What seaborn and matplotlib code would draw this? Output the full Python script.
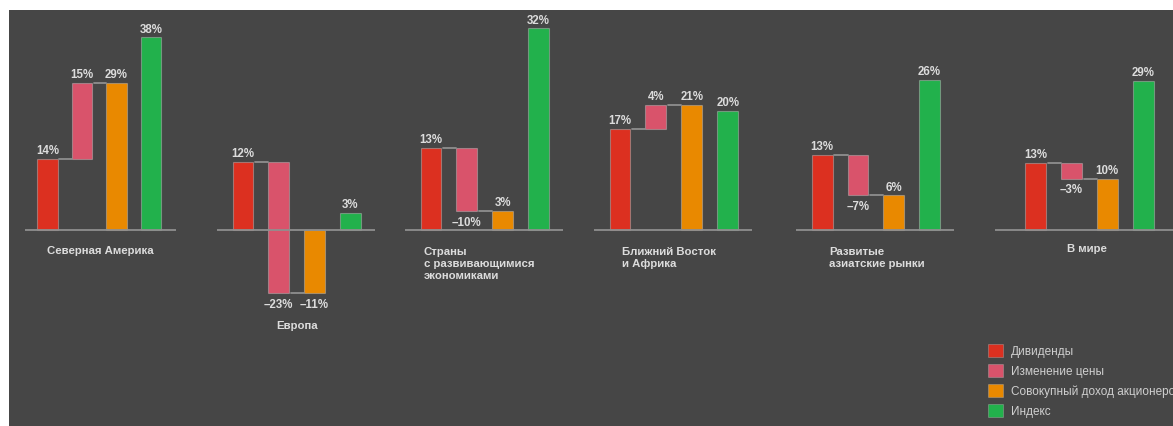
import matplotlib
matplotlib.use("Agg")
import matplotlib.pyplot as plt
from matplotlib.patches import Rectangle, Patch
import pandas as pd
import seaborn as sns

# ---- data (percent) ----
regions = [
    "Северная Америка",
    "Европа",
    "Страны\nс развивающимися\nэкономиками",
    "Ближний Восток\nи Африка",
    "Развитые\nазиатские рынки",
    "В мире",
]
dividends = [14, 12, 13, 17, 13, 13]
price_change = [15, -23, -10, 4, -7, -3]
shareholder_return = [29, -11, 3, 21, 6, 10]
index_return = [38, 3, 32, 20, 26, 29]

components = ["Дивиденды", "Изменение цены", "Совокупный доход акционеров", "Индекс"]
colors = ["#dc3020", "#d9536b", "#e98900", "#22b14c"]

# ---- styling / layout (pixel units of a 1173x427 canvas) ----
W, H = 1173, 427
BG = "#464646"
TEXT = "#dcdcdc"
LINE = "#8f8f8f"
BASE_Y = 231          # baseline row
TOP_Y = 11            # top of the dark panel
first_center = [47.5, 243, 431, 620, 822.2, 1035.5]
spacing = [34.5, 35.8, 35.8, 35.9, 35.7, 35.9]
left_units = [0.65, 0.73, 0.73, 0.73, 0.73, 1.13]
right_edge = [175.7, 375.3, 563, 752, 954.3, 1173]
px_per_pct = [5.07, 5.7, 6.3, 5.97, 5.76, 5.15]
BAR_W = 0.58
label_pos = [(100.5, 246, "center"), (297, 321, "center"), (424, 247, "left"),
             (622, 247, "left"), (829, 247, "left"), (1087, 244, "center")]

sns.set_style("dark", {"axes.facecolor": "none", "figure.facecolor": "white"})
plt.rcParams["font.family"] = ["Liberation Sans", "DejaVu Sans"]

fig = plt.figure(figsize=(W / 100, H / 100), dpi=100, facecolor="white")
fig.add_artist(Rectangle((9 / W, 0), 1, (H - TOP_Y) / H, transform=fig.transFigure,
                         facecolor=BG, edgecolor="none", zorder=-10))


def fmt(v):
    return f"{v}%" if v >= 0 else f"\u2013{abs(v)}%"


for i, region in enumerate(regions):
    c0, sp, lu = first_center[i], spacing[i], left_units[i]
    left_px = c0 - lu * sp
    right_u = (right_edge[i] - c0) / sp
    s = px_per_pct[i]

    ax = fig.add_axes([left_px / W, 0, (right_edge[i] - left_px) / W, (H - TOP_Y) / H])
    df = pd.DataFrame({
        "component": components,
        "value": [dividends[i], price_change[i], shareholder_return[i], index_return[i]],
    })
    sns.barplot(data=df, x="component", y="value", order=components, ax=ax,
                bottom=[0, dividends[i], 0, 0], width=BAR_W, errorbar=None,
                color=colors[0], edgecolor=(0.75, 0.75, 0.75, 0.45), linewidth=0.8,
                saturation=1)
    for patch, col in zip(ax.patches, colors):
        patch.set_facecolor(col)

    ax.set_xlim(-lu, right_u)
    ax.set_ylim(-(H - BASE_Y) / s, (BASE_Y - TOP_Y) / s)
    ax.set_axis_off()

    # baseline and connector lines
    ax.axhline(0, color=LINE, lw=1.3, zorder=3)
    half = BAR_W / 2
    ax.plot([half + 0.05, 1 - half], [dividends[i]] * 2, color=LINE, lw=1.3)
    ax.plot([1 + half + 0.05, 2 - half], [shareholder_return[i]] * 2, color=LINE, lw=1.3)

    # value labels
    lab_kw = dict(textcoords="offset points", ha="center", color=TEXT,
                  fontsize=8.3, fontweight="bold")
    ax.annotate(fmt(dividends[i]), (0, dividends[i]), xytext=(0, 2), va="bottom", **lab_kw)
    pc_top = max(dividends[i], dividends[i] + price_change[i])
    pc_bot = min(dividends[i], dividends[i] + price_change[i])
    if price_change[i] >= 0:
        ax.annotate(fmt(price_change[i]), (1, pc_top), xytext=(0, 2), va="bottom", **lab_kw)
    else:
        ax.annotate(fmt(price_change[i]), (1, pc_bot), xytext=(0, -3.5), va="top", **lab_kw)
    if shareholder_return[i] >= 0:
        ax.annotate(fmt(shareholder_return[i]), (2, shareholder_return[i]), xytext=(0, 2),
                    va="bottom", **lab_kw)
    else:
        ax.annotate(fmt(shareholder_return[i]), (2, shareholder_return[i]), xytext=(0, -3.5),
                    va="top", **lab_kw)
    ax.annotate(fmt(index_return[i]), (3, index_return[i]), xytext=(0, 2), va="bottom", **lab_kw)

    # region title
    lx, ly, ha = label_pos[i]
    fig.text(lx / W, 1 - ly / H, region, ha=ha, va="top", color=TEXT,
             fontsize=8.2, fontweight="bold", linespacing=1.22)

# legend
handles = [Patch(facecolor=c, edgecolor=(0.75, 0.75, 0.75, 0.4), linewidth=0.6) for c in colors]
fig.legend(handles, components, loc="upper left",
           bbox_to_anchor=(988 / W, 1 - 345 / H), frameon=False, fontsize=8.5,
           labelcolor="#cfcfcf", handlelength=1.3, handleheight=1.3,
           labelspacing=0.55, handletextpad=0.65, borderpad=0, borderaxespad=0)

fig.savefig("out.png", dpi=100, facecolor="white")
